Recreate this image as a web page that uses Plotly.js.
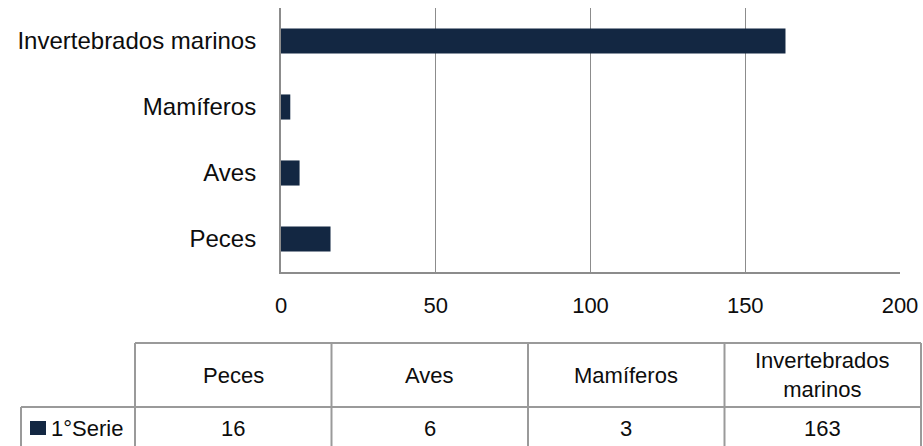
<!DOCTYPE html>
<html>
<head>
<meta charset="utf-8">
<script src="https://cdn.plot.ly/plotly-3.0.1.min.js"></script>
<style>
  html, body { margin: 0; padding: 0; background: #ffffff; }
  #chart { width: 923px; height: 446px; }
</style>
</head>
<body>
<div id="chart"></div>
<script>
// Especies por grupo
const categories = ['Peces', 'Aves', 'Mamíferos', 'Invertebrados marinos'];
const seriesName = '1°Serie';
const seriesValues = [16, 6, 3, 163];
const xTickValues = [0, 50, 100, 150, 200];

const barColor = '#132742';
const lineColor = '#8c8c8c';
const textColor = '#0d0d0d';
const fontFamily = '"Liberation Sans", Arial, sans-serif';
const fontSize = 22;

// plot area in page pixels
const W = 923, H = 446;
const L = 281, R = 900, T = 8, B = 272;
const px = x => (x - L) / (R - L);
const py = y => (B - y) / (B - T);

// data table geometry (pixels)
const tableLeft = 135, tableRight = 921;
const legendLeft = 21;
const headerTop = 343, rowTop = 407, tableBottom = 460;
const colW = (tableRight - tableLeft) / categories.length;

const shapes = [];
const annotations = [];

function hLine(x0, x1, y) {
  shapes.push({type: 'line', xref: 'paper', yref: 'paper',
    x0: px(x0), x1: px(x1), y0: py(y), y1: py(y),
    line: {color: '#9a9a9a', width: 2}});
}
function vLine(x, y0, y1) {
  shapes.push({type: 'line', xref: 'paper', yref: 'paper',
    x0: px(x), x1: px(x), y0: py(y0), y1: py(y1),
    line: {color: '#9a9a9a', width: 2}});
}

hLine(tableLeft, tableRight, headerTop);
hLine(legendLeft, tableRight, rowTop);
vLine(legendLeft, rowTop, tableBottom);
for (let i = 0; i <= categories.length; i++) {
  vLine(tableLeft + i * colW, headerTop, tableBottom);
}

// wrap long headers onto two lines
const wrap = s => s.length > 12 ? s.replace(' ', '<br>') : s;

categories.forEach((c, i) => {
  const cx = tableLeft + (i + 0.5) * colW;
  annotations.push({xref: 'paper', yref: 'paper', x: px(cx), y: py((headerTop + rowTop) / 2),
    text: wrap(c), showarrow: false, xanchor: 'center', yanchor: 'middle',
    font: {family: fontFamily, size: fontSize, color: textColor}});
  annotations.push({xref: 'paper', yref: 'paper', x: px(cx), y: py(428),
    text: String(seriesValues[i]), showarrow: false, xanchor: 'center', yanchor: 'middle',
    font: {family: fontFamily, size: fontSize, color: textColor}});
});

// legend key inside the table's first cell
shapes.push({type: 'rect', xref: 'paper', yref: 'paper',
  x0: px(30), x1: px(46), y0: py(421), y1: py(435),
  fillcolor: barColor, line: {width: 0}});
annotations.push({xref: 'paper', yref: 'paper', x: px(49), y: py(428),
  text: seriesName, showarrow: false, xanchor: 'left', yanchor: 'middle',
  font: {family: fontFamily, size: fontSize, color: textColor}});

const trace = {
  type: 'bar',
  orientation: 'h',
  name: seriesName,
  y: categories,
  x: seriesValues,
  marker: {color: barColor, line: {width: 0}},
  hoverinfo: 'x+y'
};

const layout = {
  width: W, height: H,
  margin: {l: L, r: W - R, t: T, b: H - B, pad: 0},
  paper_bgcolor: '#ffffff',
  plot_bgcolor: '#ffffff',
  showlegend: false,
  bargap: 0.62,
  font: {family: fontFamily, size: fontSize, color: textColor},
  xaxis: {
    range: [0, 200],
    tickvals: xTickValues,
    ticks: '',
    ticklabelstandoff: 13,
    showgrid: true, gridcolor: lineColor, gridwidth: 1,
    showline: true, linecolor: lineColor, linewidth: 2,
    zeroline: false,
    tickfont: {family: fontFamily, size: fontSize, color: textColor},
    fixedrange: true
  },
  yaxis: {
    type: 'category',
    ticks: '',
    ticklabelstandoff: 18,
    showgrid: false,
    showline: true, linecolor: lineColor, linewidth: 2,
    zeroline: false,
    tickfont: {family: fontFamily, size: 24, color: textColor},
    fixedrange: true
  },
  shapes: shapes,
  annotations: annotations
};

Plotly.newPlot('chart', [trace], layout, {displayModeBar: false, staticPlot: true});
</script>
</body>
</html>
